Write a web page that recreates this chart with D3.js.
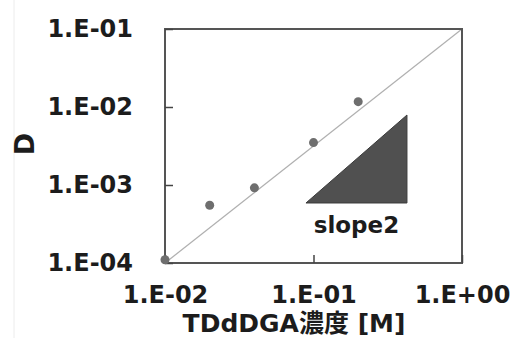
<!DOCTYPE html>
<html>
<head>
<meta charset="utf-8">
<script src="https://cdn.jsdelivr.net/npm/d3@7"></script>
<style>
  html, body { margin: 0; padding: 0; background: #fff; }
  svg { display: block; }
  text { font-family: "DejaVu Sans", "Noto Sans CJK JP", Verdana, sans-serif; font-weight: bold; fill: #1c1c1c; }
</style>
</head>
<body>
<svg id="chart" width="511" height="338"></svg>
<script>
// TDdDGA concentration [M] vs distribution ratio D
const concentration = [0.01, 0.02, 0.04, 0.1, 0.2];
const distribution = [1.1e-4, 5.5e-4, 9.2e-4, 3.5e-3, 1.17e-2];

// reference line across the plot (log-log)
const fitX = [0.01, 1];
const fitY = [1e-4, 1e-1];

// slope guide triangle (corner points in data units)
const slopeX = [0.089, 0.426, 0.426];
const slopeY = [5.88e-4, 7.89e-3, 5.88e-4];
const slopeLabel = "slope2";

const xTicks = [0.01, 0.1, 1];
const xTickLabels = ["1.E-02", "1.E-01", "1.E+00"];
const yTicks = [1e-4, 1e-3, 1e-2, 1e-1];
const yTickLabels = ["1.E-04", "1.E-03", "1.E-02", "1.E-01"];

const xTitle = "TDdDGA濃度 [M]";
const yTitle = "D";

const svg = d3.select("#chart");
const plot = { left: 165, right: 462, top: 29, bottom: 263 };

const x = d3.scaleLog().domain([0.01, 1]).range([plot.left, plot.right]);
const y = d3.scaleLog().domain([1e-4, 1e-1]).range([plot.bottom, plot.top]);

// faint page rule at the far left
svg.append("line")
  .attr("x1", 14).attr("x2", 14).attr("y1", 0).attr("y2", 338)
  .attr("stroke", "#ececec").attr("stroke-width", 1);

// fitted line
svg.append("line")
  .attr("x1", x(fitX[0])).attr("y1", y(fitY[0]))
  .attr("x2", x(fitX[1])).attr("y2", y(fitY[1]))
  .attr("stroke", "#b0b0b0").attr("stroke-width", 1.2);

// slope triangle
svg.append("path")
  .attr("d", d3.line()(slopeX.map((v, i) => [x(v), y(slopeY[i])])) + "Z")
  .attr("fill", "#505050").attr("stroke", "#3a3a3a").attr("stroke-width", 1);

svg.append("text")
  .attr("x", (x(slopeX[0]) + x(slopeX[1])) / 2)
  .attr("y", 233)
  .attr("text-anchor", "middle")
  .style("font-size", "23px")
  .text(slopeLabel);

// plot frame
svg.append("rect")
  .attr("x", plot.left).attr("y", plot.top)
  .attr("width", plot.right - plot.left).attr("height", plot.bottom - plot.top)
  .attr("fill", "none").attr("stroke", "#555").attr("stroke-width", 2);

// axes with inward ticks
const xAxis = d3.axisBottom(x).tickValues(xTicks)
  .tickFormat((d, i) => xTickLabels[i]).tickSizeInner(-8).tickSizeOuter(0).tickPadding(23);
const gx = svg.append("g").attr("transform", `translate(0,${plot.bottom})`).call(xAxis);
gx.select(".domain").remove();
gx.selectAll("line").attr("stroke", "#444").attr("stroke-width", 1.5);
gx.selectAll("text").style("font-size", "24px").attr("fill", "#1c1c1c")
  .attr("font-family", null).attr("dy", "0.71em");

const yAxis = d3.axisLeft(y).tickValues(yTicks)
  .tickFormat(d => yTickLabels[yTicks.indexOf(d)]).tickSizeInner(-8).tickSizeOuter(0).tickPadding(32);
const gy = svg.append("g").attr("transform", `translate(${plot.left},0)`).call(yAxis);
gy.select(".domain").remove();
gy.selectAll("line").attr("stroke", "#444").attr("stroke-width", 1.5);
gy.selectAll("text").style("font-size", "24px").attr("fill", "#1c1c1c")
  .attr("font-family", null);

// data points
svg.append("g").selectAll("circle")
  .data(concentration)
  .join("circle")
  .attr("cx", d => x(d))
  .attr("cy", (d, i) => y(distribution[i]))
  .attr("r", 4.5)
  .attr("fill", "#6e6e6e");

// axis titles
svg.append("text")
  .attr("x", 294).attr("y", 332)
  .attr("text-anchor", "middle")
  .style("font-size", "25px")
  .text(xTitle);

svg.append("text")
  .attr("transform", "translate(34,144) rotate(-90)")
  .attr("text-anchor", "middle")
  .style("font-size", "27px")
  .text(yTitle);
</script>
</body>
</html>
